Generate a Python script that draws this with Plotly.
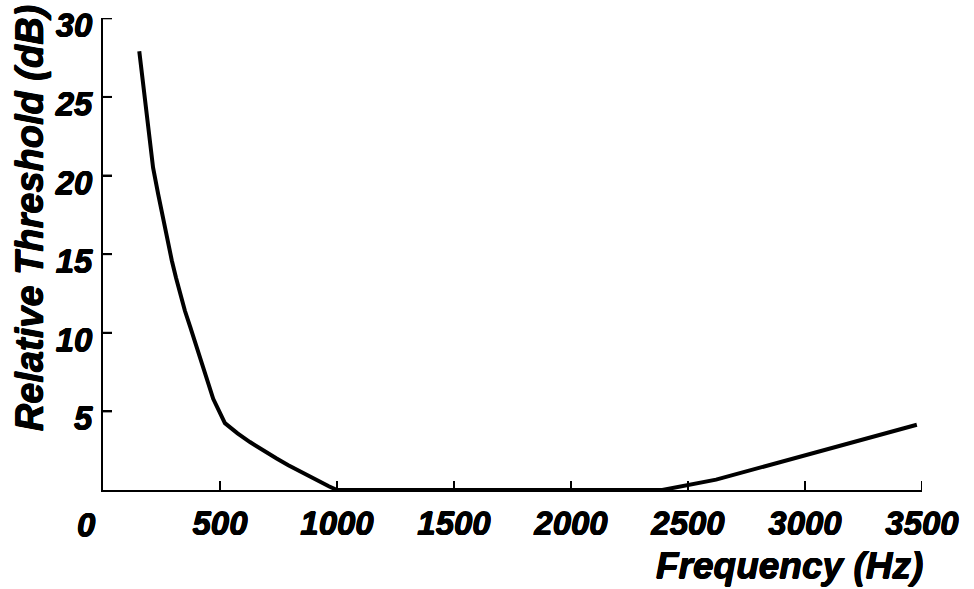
import plotly.graph_objects as go

# Data
freq_hz = [155, 165, 190, 214, 236, 258, 276, 294, 312, 329, 350, 372, 394, 415, 443, 471, 521, 575, 628, 685, 742, 792, 842, 885, 927, 965, 1000, 2390, 2620, 3005, 3478]
threshold_db = [27.9, 26.6, 23.2, 20.5, 18.8, 17.1, 15.8, 14.6, 13.5, 12.5, 11.4, 10.4, 9.4, 8.5, 7.1, 5.8, 4.25, 3.6, 3.05, 2.5, 2.0, 1.58, 1.18, 0.85, 0.52, 0.24, 0.0, 0.0, 0.66, 2.25, 4.15]

x_ticks = [500, 1000, 1500, 2000, 2500, 3000, 3500]
y_ticks = [5, 10, 15, 20, 25, 30]

FONT = "Liberation Sans, Arial, sans-serif"
SHADOW = "0.5px 0 0 black, -0.5px 0 0 black, 0 0.5px 0 black, 0 -0.5px 0 black"
TICKLEN = 9

fig = go.Figure()
fig.add_trace(go.Scatter(x=freq_hz, y=threshold_db, mode="lines",
                         line=dict(color="black", width=4),
                         showlegend=False, hoverinfo="skip", cliponaxis=False))

tickfont = dict(family=FONT, size=33, color="black", weight="bold", style="italic", shadow=SHADOW)

fig.update_layout(
    width=974, height=589,
    margin=dict(l=103, r=52, t=18, b=99),
    paper_bgcolor="white", plot_bgcolor="white",
    xaxis=dict(range=[0, 3500], tickmode="array", tickvals=x_ticks, ticktext=[str(v) for v in x_ticks],
               ticks="inside", ticklen=TICKLEN, tickwidth=2, tickcolor="black",
               showline=True, linewidth=2, linecolor="black", automargin=False,
               showgrid=False, zeroline=False, tickfont=tickfont,
               ticklabelstandoff=3, ticklabeloverflow="allow"),
    yaxis=dict(range=[0, 30.02], tickmode="array", tickvals=y_ticks, ticktext=[str(v) for v in y_ticks],
               ticks="inside", ticklen=TICKLEN, tickwidth=2, tickcolor="black",
               showline=True, linewidth=2, linecolor="black", automargin=False,
               showgrid=False, zeroline=False, tickfont=tickfont,
               ticklabelshift=7, ticklabelstandoff=2, ticklabeloverflow="allow"),
)

# inward tick marks, placed at the tick values through the axes' own scales
for v in x_ticks:
    fig.add_shape(type="line", xref="x", yref="paper", x0=v, x1=v,
                  ysizemode="pixel", yanchor=0, y0=0, y1=TICKLEN,
                  line=dict(color="black", width=2))
for v in y_ticks:
    fig.add_shape(type="line", yref="y", xref="paper", y0=v, y1=v,
                  xsizemode="pixel", xanchor=0, x0=0, x1=TICKLEN,
                  line=dict(color="black", width=2))

fig.add_annotation(text="0", xref="paper", yref="paper", x=0, y=0, xshift=-17, yshift=-34,
                   xanchor="center", yanchor="middle", showarrow=False, font=tickfont)
fig.add_annotation(text="Frequency (Hz)", xref="paper", yref="paper", x=1.0037, y=-0.159,
                   xanchor="right", yanchor="middle", showarrow=False,
                   font=dict(family=FONT, size=37, color="black", weight="bold", style="italic", shadow=SHADOW))
fig.add_annotation(text="Relative Threshold (dB)", xref="paper", yref="paper", x=-0.089, y=0.576,
                   xanchor="center", yanchor="middle", textangle=-90, showarrow=False,
                   font=dict(family=FONT, size=38, color="black", weight="bold", style="italic", shadow=SHADOW))

fig.write_html("out.html", config={"displayModeBar": False})

# remove the default browser body margin so the figure sits at the page origin
with open("out.html", "r", encoding="utf-8") as f:
    html = f.read()
html = html.replace("<body>", '<body style="margin:0;padding:0;overflow:hidden">', 1)
with open("out.html", "w", encoding="utf-8") as f:
    f.write(html)
